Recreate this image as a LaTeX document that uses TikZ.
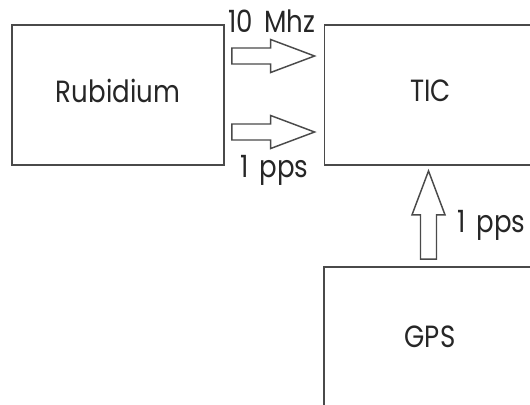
\documentclass[tikz,border=0pt]{standalone}
\usepackage{fontspec}
\setmainfont{Poppins}[FakeStretch=0.85,WordSpace=1.6]
\usetikzlibrary{calc}
\definecolor{diagink}{HTML}{4A4A4A}
\definecolor{diagtext}{HTML}{262626}

\tikzset{
  unitbox/.style={draw=diagink,line width=1.4pt,minimum width=159pt,minimum height=105pt,inner sep=0pt,text=diagtext},
  sigtext/.style={anchor=base west,inner sep=0pt,text=diagtext},
  blockarrow/.style={draw=diagink,line width=1.1pt,line join=miter,
    to path={let \p1=(\tikztostart),\p2=(\tikztotarget),
      \n1={atan2(\y2-\y1,\x2-\x1)},\n2={veclen(\x2-\x1,\y2-\y1)-33} in
      ({\x1-6*sin(\n1)},{\y1+6*cos(\n1)})
      -- ({\x1+\n2*cos(\n1)-6*sin(\n1)},{\y1+\n2*sin(\n1)+6*cos(\n1)})
      -- ({\x1+\n2*cos(\n1)-12.4*sin(\n1)},{\y1+\n2*sin(\n1)+12.4*cos(\n1)})
      -- (\p2)
      -- ({\x1+\n2*cos(\n1)+12.4*sin(\n1)},{\y1+\n2*sin(\n1)-12.4*cos(\n1)})
      -- ({\x1+\n2*cos(\n1)+6*sin(\n1)},{\y1+\n2*sin(\n1)-6*cos(\n1)})
      -- ({\x1+6*sin(\n1)},{\y1-6*cos(\n1)}) -- cycle}}
}

\begin{document}
\begin{tikzpicture}[x=.75pt,y=-.75pt,font=\fontsize{23}{27}\selectfont]
        \useasboundingbox (0,0) rectangle (530,404);
        \clip (0,0) rectangle (530,404);

        \node[unitbox,text depth=7pt] (rb) at (118,95) {Rubidium};
        \node[unitbox,text depth=7pt] (tic) at (430.5,95) {TIC};
        \node[unitbox] (gps) at (430,337) {GPS};

        \draw[blockarrow] ([shift={(7,-39)}]rb.east) to ([shift={(-9,-39)}]tic.west);
        \draw[blockarrow] ([shift={(7,37)}]rb.east) to ([shift={(-9,37)}]tic.west);
        \draw[blockarrow] ([shift={(-1.5,-7)}]gps.north) to ([shift={(-2,5)}]tic.south);

        \node[sigtext] (f10) at (228,32) {10 Mhz};
        \node[sigtext] (ppsrb) at (240,177) {1 pps};
        \node[sigtext] (ppsgps) at (457,232) {1 pps};
      \end{tikzpicture}
\end{document}
